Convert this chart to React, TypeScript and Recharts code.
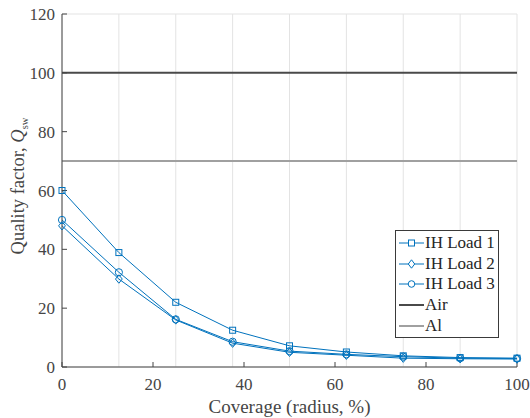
import React from 'react';
import { CartesianGrid, Legend, Line, LineChart, ReferenceLine, XAxis, YAxis } from 'recharts';

const coverage = [0, 12.5, 25, 37.5, 50, 62.5, 75, 87.5, 100];
const load1 = [60, 38.9, 22, 12.5, 7.2, 5.1, 3.8, 3.2, 3.0];
const load2 = [48, 29.9, 16, 8.1, 5.0, 4.0, 3.0, 2.8, 2.7];
const load3 = [50, 32.2, 16.2, 8.6, 5.4, 4.3, 3.5, 3.0, 2.9];
const airQ = 100;
const alQ = 70;
const xTicks = [0, 20, 40, 60, 80, 100];
const yTicks = [0, 20, 40, 60, 80, 100, 120];

const data = coverage.map((c, i) => ({ c, load1: load1[i], load2: load2[i], load3: load3[i] }));

const BLUE = '#0072BD';
const AXIS = '#454545';
const FONT = 'Liberation Serif';

const Square = (p: any) => (
  <rect key={p.index} x={p.cx - 3} y={p.cy - 3} width={6} height={6} fill="none" stroke={BLUE} strokeWidth={1} />
);
const Diamond = (p: any) => (
  <path key={p.index} d={`M${p.cx},${p.cy - 4.2}L${p.cx + 3.4},${p.cy}L${p.cx},${p.cy + 4.2}L${p.cx - 3.4},${p.cy}Z`} fill="none" stroke={BLUE} strokeWidth={1} />
);
const Circle = (p: any) => (
  <circle key={p.index} cx={p.cx} cy={p.cy} r={3.6} fill="none" stroke={BLUE} strokeWidth={1} />
);

const legendItems = [
  { name: 'IH Load 1', color: BLUE, w: 1, marker: 'square' },
  { name: 'IH Load 2', color: BLUE, w: 1, marker: 'diamond' },
  { name: 'IH Load 3', color: BLUE, w: 1, marker: 'circle' },
  { name: 'Air', color: '#4a4a4a', w: 2, marker: '' },
  { name: 'Al', color: '#a0a0a0', w: 2, marker: '' },
];

const LegendBox = () => (
  <div style={{ border: '1px solid #3a3a3a', background: '#fff', padding: '2px 3px 1px 3px', fontFamily: FONT, fontSize: 17, color: '#262626', width: 104, boxSizing: 'border-box' }}>
    {legendItems.map((it) => (
      <div key={it.name} style={{ display: 'flex', alignItems: 'center', height: 20.6, whiteSpace: 'nowrap' }}>
        <svg width={25} height={12} style={{ marginRight: 1, flexShrink: 0 }}>
          <line x1={0} y1={6} x2={25} y2={6} stroke={it.color} strokeWidth={it.w} />
          {it.marker === 'square' && <rect x={9.5} y={3} width={6} height={6} fill="#fff" stroke={BLUE} />}
          {it.marker === 'diamond' && <path d="M12.5,1.8L15.7,6L12.5,10.2L9.3,6Z" fill="#fff" stroke={BLUE} />}
          {it.marker === 'circle' && <circle cx={12.5} cy={6} r={3.3} fill="#fff" stroke={BLUE} />}
        </svg>
        <span>{it.name}</span>
      </div>
    ))}
  </div>
);

const YLabel = () => (
  <text x={0} y={0} transform="translate(24,186) rotate(-90)" textAnchor="middle" fill={AXIS} fontFamily={FONT} fontSize={18.5}>
    Quality factor, <tspan fontStyle="italic">Q</tspan>
    <tspan fontSize={10.5} dy={4}>sw</tspan>
  </text>
);

export default function App() {
  return (
    <div style={{ position: 'absolute', left: 0, top: 0, width: 530, height: 418, background: '#fff' }}>
      <LineChart width={530} height={418} data={data} margin={{ top: 14, right: 13, left: 0, bottom: 0 }}>
        <CartesianGrid stroke="#e3e3e3" strokeWidth={1} />
        <XAxis
          xAxisId="b"
          dataKey="c"
          type="number"
          domain={[0, 100]}
          ticks={xTicks}
          height={51}
          stroke={AXIS}
          tickSize={-5}
          tickMargin={16}
          tick={{ fill: AXIS, fontSize: 17, fontFamily: FONT }}
          label={{ value: 'Coverage (radius, %)', position: 'insideBottom', offset: 5, fill: AXIS, fontSize: 19, fontFamily: FONT }}
        />
        <XAxis xAxisId="t" dataKey="c" type="number" domain={[0, 100]} ticks={xTicks} orientation="top" height={0} stroke={AXIS} tickSize={-5} tick={false} />
        <YAxis
          yAxisId="l"
          type="number"
          domain={[0, 120]}
          ticks={yTicks}
          width={62}
          stroke={AXIS}
          tickSize={-5}
          tickMargin={12}
          tick={{ fill: AXIS, fontSize: 17, fontFamily: FONT }}
          label={<YLabel />}
        />
        <YAxis yAxisId="r" type="number" domain={[0, 120]} ticks={yTicks} orientation="right" width={0} stroke={AXIS} tickSize={-5} tick={false} />
        <ReferenceLine xAxisId="b" yAxisId="l" y={airQ} stroke="#4a4a4a" strokeWidth={2} />
        <ReferenceLine xAxisId="b" yAxisId="l" y={alQ} stroke="#a0a0a0" strokeWidth={2} />
        <Line xAxisId="b" yAxisId="l" dataKey="load1" stroke={BLUE} strokeWidth={1} dot={Square} isAnimationActive={false} />
        <Line xAxisId="b" yAxisId="l" dataKey="load2" stroke={BLUE} strokeWidth={1} dot={Diamond} isAnimationActive={false} />
        <Line xAxisId="b" yAxisId="l" dataKey="load3" stroke={BLUE} strokeWidth={1} dot={Circle} isAnimationActive={false} />
        <Legend
          layout="vertical"
          align="center"
          verticalAlign="middle"
          content={<LegendBox />}
          wrapperStyle={{ left: 395, top: 230, width: 'auto' }}
        />
      </LineChart>
    </div>
  );
}
